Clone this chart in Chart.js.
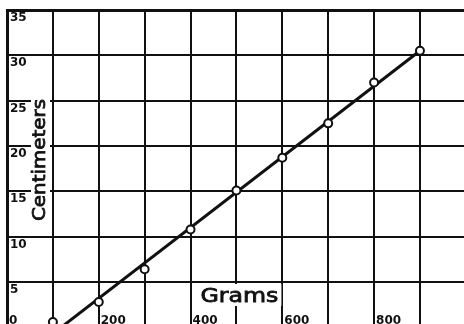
<!DOCTYPE html>
<html>
<head>
<meta charset="utf-8">
<title>Spring stretch</title>
<script src="https://cdn.jsdelivr.net/npm/chart.js@4.4.1/dist/chart.umd.min.js"></script>
<style>
  html, body { margin: 0; padding: 0; background: #fff; }
  canvas { display: block; }
</style>
</head>
<body>
<canvas id="springChart" width="464" height="324"></canvas>
<script>
// load hung on the spring (grams) and the stretch it gave (centimeters)
const grams = [100, 200, 300, 400, 500, 600, 700, 800, 900]
const centimeters = [0.6, 2.8, 6.4, 10.8, 15.1, 18.7, 22.5, 27.0, 30.5]

// the straight line ruled through the readings
const lineGrams = [100, 900]
const lineCentimeters = [-0.7, 30.5]

// ruling of the graph paper and the numbers written on it
const xTicks = [0, 100, 200, 300, 400, 500, 600, 700, 800, 900]
const xLabels = [0, 200, 400, 600, 800]
const yTicks = [5, 10, 15, 20, 25, 30, 35]
const yLabels = [5, 10, 15, 20, 25, 30, 35]

const ink = '#111'

// hand lettering: stretched to a set width and gone over once with the pen
function stretchedText(ctx, text, width) {
  const w = ctx.measureText(text).width
  ctx.scale(width / w, 1)
  ctx.textAlign = 'center'
  ctx.textBaseline = 'alphabetic'
  ctx.fillText(text, 0, 0)
  ctx.strokeText(text, 0, 0)
}

// numbers and axis names are lettered inside the ruled area
const paperLabels = {
  id: 'paperLabels',
  afterDraw(chart) {
    const ctx = chart.ctx
    const x = chart.scales.x
    const y = chart.scales.y
    const area = chart.chartArea
    ctx.save()
    ctx.fillStyle = ink
    ctx.strokeStyle = ink
    ctx.lineWidth = 0.8
    ctx.textAlign = 'left'
    ctx.textBaseline = 'top'

    ctx.font = 'bold 12px "DejaVu Sans"'
    yLabels.forEach(v => ctx.fillText(String(v), area.left + 3, y.getPixelForValue(v) + 2))
    xLabels.forEach(v => ctx.fillText(String(v), x.getPixelForValue(v) + 2, 315))

    // "Grams" sits on a white patch over the bottom row
    const gx = x.getPixelForValue(500) + 3
    ctx.fillStyle = '#fff'
    ctx.fillRect(gx - 42, 284, 84, 22)
    ctx.fillStyle = ink
    ctx.font = '20px "DejaVu Sans"'
    ctx.save()
    ctx.translate(gx, 302)
    stretchedText(ctx, 'Grams', 78)
    ctx.restore()

    // "Centimeters" runs up the left column
    const cy = 160
    ctx.fillStyle = '#fff'
    ctx.fillRect(31, 100, 19, 123)
    ctx.fillStyle = ink
    ctx.font = '18px "DejaVu Sans"'
    ctx.save()
    ctx.translate(45, cy)
    ctx.rotate(-Math.PI / 2)
    stretchedText(ctx, 'Centimeters', 122)
    ctx.restore()

    ctx.restore()
  }
}

const chartEl = document.getElementById('springChart')
const springChart = new Chart(chartEl, {
  type: 'scatter',
  data: {
    datasets: [{
      label: 'Readings',
      data: grams.map((g, i) => ({ x: g, y: centimeters[i] })),
      pointRadius: 4,
      pointBorderWidth: 2,
      pointBackgroundColor: '#fff',
      pointBorderColor: ink,
      showLine: false
    }, {
      label: 'Ruled line',
      data: lineGrams.map((g, i) => ({ x: g, y: lineCentimeters[i] })),
      showLine: true,
      borderColor: ink,
      borderWidth: 3,
      pointRadius: 0
    }]
  },
  options: {
    responsive: false,
    animation: false,
    layout: {
      autoPadding: false,
      padding: { left: 7, top: 10, right: 0, bottom: 0 }
    },
    plugins: {
      legend: { display: false },
      tooltip: { enabled: false }
    },
    scales: {
      x: {
        type: 'linear',
        min: 0,
        max: 996,
        afterBuildTicks: axis => { axis.ticks = xTicks.map(v => ({ value: v })) },
        ticks: { display: false },
        grid: { color: ink, lineWidth: 2, drawTicks: false },
        border: { display: false }
      },
      y: {
        type: 'linear',
        min: 0.37,
        max: 35,
        afterBuildTicks: axis => { axis.ticks = yTicks.map(v => ({ value: v })) },
        ticks: { display: false },
        grid: {
          color: ink,
          lineWidth: c => (c.tick && c.tick.value === 35 ? 3 : 2),
          drawTicks: false
        },
        border: { display: true, color: ink, width: 3 }
      }
    }
  },
  plugins: [paperLabels]
})
</script>
</body>
</html>
